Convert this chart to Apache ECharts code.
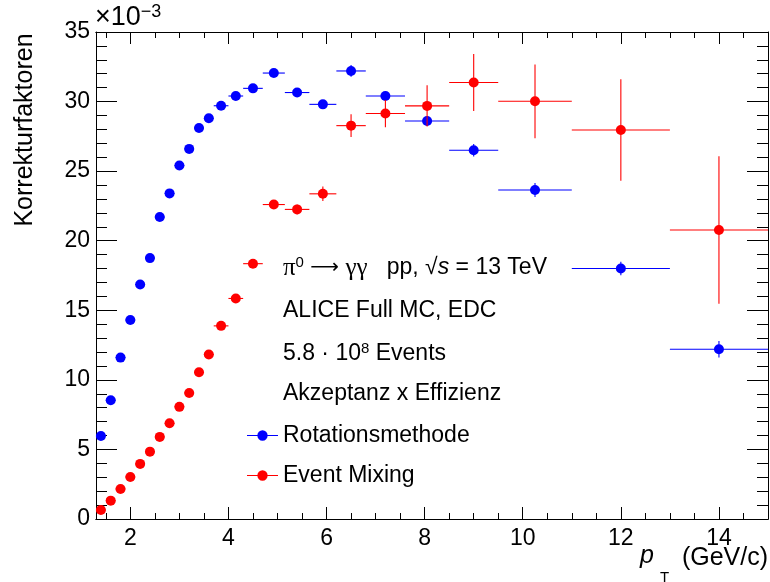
<!DOCTYPE html>
<html>
<head>
<meta charset="utf-8">
<script src="https://cdn.jsdelivr.net/npm/echarts@6/dist/echarts.min.js"></script>
<style>
html, body { margin: 0; padding: 0; background: #fff; }
#chart { width: 770px; height: 582px; }
</style>
</head>
<body>
<div id="chart"></div>
<script>
// pT bin edges (GeV/c), 25 bins
var ptEdges = [1.3, 1.5, 1.7, 1.9, 2.1, 2.3, 2.5, 2.7, 2.9, 3.1, 3.3, 3.5, 3.7, 4.0, 4.3, 4.7, 5.15, 5.65, 6.2, 6.8, 7.6, 8.5, 9.5, 11, 13, 15];

// Korrekturfaktoren x 10^-3
var rotValues = [5.97, 8.54, 11.6, 14.3, 16.85, 18.75, 21.7, 23.4, 25.4, 26.6, 28.1, 28.8, 29.7, 30.4, 30.95, 32.05, 30.65, 29.8, 32.2, 30.4, 28.6, 26.5, 23.65, 18.0, 12.2];
var rotErrors = [0.05, 0.06, 0.07, 0.08, 0.08, 0.09, 0.1, 0.1, 0.1, 0.11, 0.12, 0.12, 0.13, 0.14, 0.15, 0.2, 0.22, 0.25, 0.42, 0.33, 0.35, 0.45, 0.5, 0.48, 0.6];
var mixValues = [0.65, 1.32, 2.16, 3.02, 3.96, 4.84, 5.9, 6.88, 8.06, 9.06, 10.55, 11.82, 13.88, 15.85, 18.35, 22.6, 22.25, 23.37, 28.27, 29.14, 29.69, 31.37, 30.02, 27.96, 20.77];
var mixErrors = [0.02, 0.03, 0.04, 0.05, 0.06, 0.07, 0.08, 0.09, 0.1, 0.11, 0.13, 0.14, 0.17, 0.2, 0.25, 0.3, 0.35, 0.52, 0.82, 0.98, 1.49, 2.04, 2.65, 3.65, 5.3];

var xMajorTicks = [2, 4, 6, 8, 10, 12, 14];
var xMinorTicks = [];
for (var v = 1.5; v <= 15; v += 0.5) {
    if (v % 2 !== 0) xMinorTicks.push(v);
}

var FONT = 'Liberation Sans';
var chart = echarts.init(document.getElementById('chart'));

function buildData(values, errors) {
    var out = [];
    for (var i = 0; i < values.length; i++) {
        var lo = ptEdges[i], hi = ptEdges[i + 1];
        out.push([(lo + hi) / 2, values[i], lo, hi, errors[i]]);
    }
    return out;
}

function renderItem(params, api) {
    var x = api.value(0), y = api.value(1);
    var c = api.coord([x, y]);
    var l = api.coord([api.value(2), y]);
    var r = api.coord([api.value(3), y]);
    var t = api.coord([x, y + api.value(4)]);
    var b = api.coord([x, y - api.value(4)]);
    var color = api.visual('color');
    return {
        type: 'group',
        children: [
            { type: 'line', shape: { x1: l[0], y1: c[1], x2: r[0], y2: c[1] }, style: { stroke: color, lineWidth: 1.1 } },
            { type: 'line', shape: { x1: c[0], y1: t[1], x2: c[0], y2: b[1] }, style: { stroke: color, lineWidth: 1.1 } },
            { type: 'circle', shape: { cx: c[0], cy: c[1], r: 5 }, style: { fill: color } }
        ]
    };
}

function xAxisDef(pos, ticks, len, labels) {
    return {
        type: 'value', min: 1.3, max: 15, position: pos,
        axisLine: { show: true, onZero: false, lineStyle: { color: '#000', width: 1 } },
        axisTick: { show: true, inside: true, length: len, customValues: ticks, lineStyle: { color: '#000' } },
        axisLabel: labels ? { show: true, customValues: ticks, margin: 8, fontSize: 23, fontFamily: FONT, color: '#000' } : { show: false },
        splitLine: { show: false }
    };
}

function yAxisDef(pos, labels) {
    return {
        type: 'value', min: 0, max: 35, interval: 5, position: pos,
        axisLine: { show: true, onZero: false, lineStyle: { color: '#000', width: 1 } },
        axisTick: { show: true, inside: true, length: 21, lineStyle: { color: '#000' } },
        minorTick: { show: true, splitNumber: 5, length: 11, lineStyle: { color: '#000' } },
        axisLabel: labels ? { show: true, margin: 6, fontSize: 23, fontFamily: FONT, color: '#000' } : { show: false },
        splitLine: { show: false }
    };
}

var legendIcon = 'path://M0,4.5H30V5.5H0Z M20,5A5,5 0 1,1 10,5A5,5 0 1,1 20,5Z';

var option = {
    animation: false,
    backgroundColor: '#fff',
    grid: { left: 96, right: 2, top: 32, bottom: 63 },
    xAxis: [
        xAxisDef('bottom', xMajorTicks, 12, true),
        xAxisDef('bottom', xMinorTicks, 6, false),
        xAxisDef('top', xMajorTicks, 12, false),
        xAxisDef('top', xMinorTicks, 6, false)
    ],
    yAxis: [yAxisDef('left', true), yAxisDef('right', false)],
    legend: {
        orient: 'vertical', left: 247, top: 424, padding: 0,
        itemWidth: 31, itemHeight: 11, itemGap: 17,
        textStyle: { fontSize: 23, fontFamily: FONT, color: '#000' },
        data: [
            { name: 'Rotationsmethode', icon: legendIcon },
            { name: 'Event Mixing', icon: legendIcon }
        ]
    },
    graphic: [
        { type: 'text', x: 25, y: 130, rotation: Math.PI / 2,
          style: { text: 'Korrekturfaktoren', font: '25px "Liberation Sans"', fill: '#000', align: 'center', verticalAlign: 'middle' } },
        { type: 'text', x: 768, y: 558,
          style: { text: '(GeV/c)', font: '25px "Liberation Sans"', fill: '#000', align: 'right', verticalAlign: 'middle' } },
        { type: 'text', x: 640, y: 556,
          style: { text: 'p', font: 'italic 25px "Liberation Sans"', fill: '#000', align: 'left', verticalAlign: 'middle' } },
        { type: 'text', x: 660, y: 578,
          style: { text: 'T', font: '15px "Liberation Sans"', fill: '#000', align: 'left', verticalAlign: 'middle' } },
        { type: 'text', x: 95, y: 18,
          style: { text: '×10{sup|−3}', font: '27px "Liberation Sans"', fill: '#000', align: 'left', verticalAlign: 'middle',
                   rich: { sup: { fontSize: 18, fontFamily: FONT, verticalAlign: 'top', padding: [0, 0, 12, 0] } } } },
        { type: 'text', x: 283, y: 268,
          style: { text: '{g|π}{sup|0} {a|⟶} {g|γγ}   pp, √{i|s} = 13 TeV', font: '23px "Liberation Sans"', fill: '#000', align: 'left', verticalAlign: 'middle',
                   rich: {
                       g: { fontFamily: 'Liberation Serif', fontSize: 25 },
                       a: { fontFamily: 'DejaVu Sans', fontSize: 20 },
                       sup: { fontSize: 15, fontFamily: FONT, verticalAlign: 'top', padding: [0, 0, 10, 0] },
                       i: { fontStyle: 'italic', fontSize: 23, fontFamily: FONT }
                   } } },
        { type: 'text', x: 283, y: 311,
          style: { text: 'ALICE Full MC, EDC', font: '23px "Liberation Sans"', fill: '#000', align: 'left', verticalAlign: 'middle' } },
        { type: 'text', x: 283, y: 354,
          style: { text: '5.8 · 10{sup|8} Events', font: '23px "Liberation Sans"', fill: '#000', align: 'left', verticalAlign: 'middle',
                   rich: { sup: { fontSize: 15, fontFamily: FONT, verticalAlign: 'top', padding: [0, 0, 10, 0] } } } },
        { type: 'text', x: 283, y: 394,
          style: { text: 'Akzeptanz x Effizienz', font: '23px "Liberation Sans"', fill: '#000', align: 'left', verticalAlign: 'middle' } }
    ],
    series: [
        {
            name: 'Rotationsmethode', type: 'custom', renderItem: renderItem,
            itemStyle: { color: '#0000ff' }, encode: { x: 0, y: 1 },
            data: buildData(rotValues, rotErrors), z: 3
        },
        {
            name: 'Event Mixing', type: 'custom', renderItem: renderItem,
            itemStyle: { color: '#ff0000' }, encode: { x: 0, y: 1 },
            data: buildData(mixValues, mixErrors), z: 4
        }
    ]
};

chart.setOption(option);
</script>
</body>
</html>
